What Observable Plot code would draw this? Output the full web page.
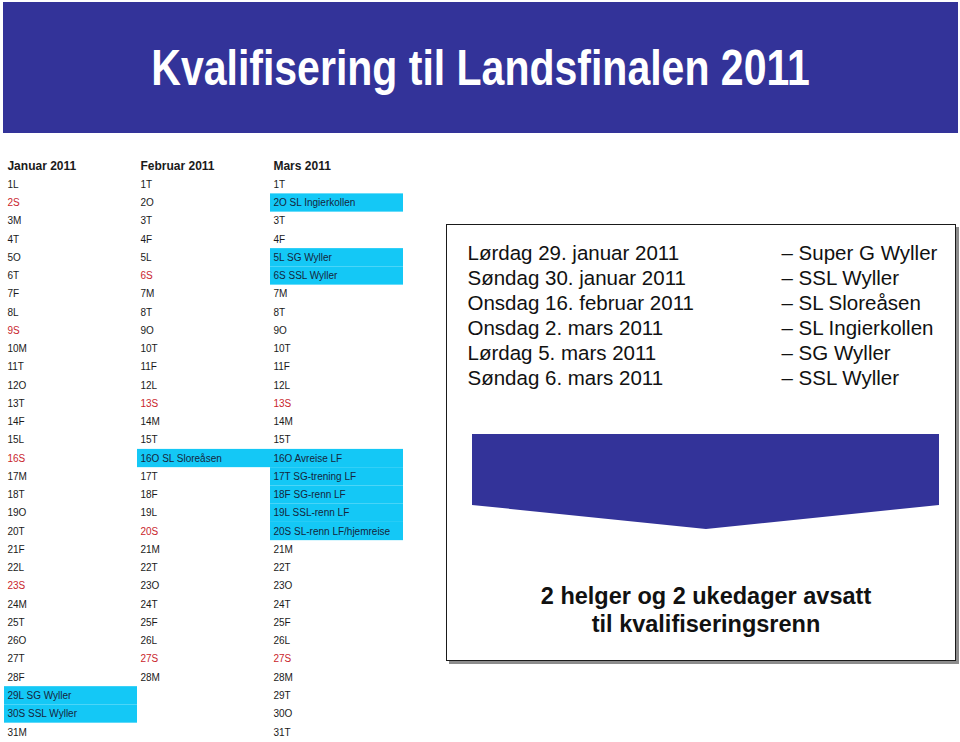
<!DOCTYPE html>
<html lang="no">
<head>
<meta charset="utf-8">
<script src="https://cdn.jsdelivr.net/npm/d3@7"></script>
<script src="https://cdn.jsdelivr.net/npm/@observablehq/plot@0.6"></script>
<style>
html,body{margin:0;padding:0;background:#fff;}
#page{position:relative;width:960px;height:742px;overflow:hidden;font-family:"Liberation Sans",Arial,Helvetica,sans-serif;}
#banner{position:absolute;left:3px;top:2px;width:955px;height:131px;background:#333399;}
#title{position:absolute;left:0;width:955px;top:41px;line-height:50px;text-align:center;color:#fff;font-weight:bold;font-size:50px;}
#title span{display:inline-block;transform:scaleX(0.82);white-space:nowrap;}
#cal{position:absolute;left:0;top:140px;}
#box{position:absolute;left:446px;top:224px;width:510px;height:437px;box-sizing:border-box;border:1.5px solid #1a1a1a;box-shadow:3px 3px 0 #8c8c8c;background:#fff;}
#list{position:absolute;left:466px;top:240px;}
#chevron{position:absolute;left:472px;top:434px;width:467px;height:95px;background:#333399;clip-path:polygon(0 0,100% 0,100% 74.7%,50.1% 100%,0 74.7%);}
#note{position:absolute;left:456px;top:582px;width:500px;text-align:center;font-weight:bold;font-size:23.5px;line-height:28px;color:#111;}
svg text{white-space:pre;}
</style>
</head>
<body>
<div id="page">
  <div id="banner"><div id="title"><span>Kvalifisering til Landsfinalen 2011</span></div></div>
  <div id="cal"></div>
  <div id="box"></div>
  <div id="list"></div>
  <div id="chevron"></div>
  <div id="note">2 helger og 2 ukedager avsatt<br>til kvalifiseringsrenn</div>
</div>
<script>
// ---- data ----
const months = ["Januar 2011", "Februar 2011", "Mars 2011"];
const janDays = ["L","S","M","T","O","T","F","L","S","M","T","O","T","F","L","S","M","T","O","T","F","L","S","M","T","O","T","F","L","S","M"];
const febDays = ["T","O","T","F","L","S","M","T","O","T","F","L","S","M","T","O","T","F","L","S","M","T","O","T","F","L","S","M"];
const marDays = ["T","O","T","F","L","S","M","T","O","T","F","L","S","M","T","O","T","F","L","S","M","T","O","T","F","L","S","M","T","O","T"];

const hlMonth = ["Januar 2011","Januar 2011","Februar 2011","Mars 2011","Mars 2011","Mars 2011","Mars 2011","Mars 2011","Mars 2011","Mars 2011","Mars 2011"];
const hlDay   = [29, 30, 16, 2, 5, 6, 16, 17, 18, 19, 20];
const hlText  = ["SG Wyller","SSL Wyller","SL Sloreåsen","SL Ingierkollen","SG Wyller","SSL Wyller","Avreise LF","SG-trening LF","SG-renn LF","SSL-renn LF","SL-renn LF/hjemreise"];

const listDates = ["Lørdag 29. januar 2011","Søndag 30. januar 2011","Onsdag 16. februar 2011","Onsdag 2. mars 2011","Lørdag 5. mars 2011","Søndag 6. mars 2011"];
const listRaces = ["– Super G Wyller","– SSL Wyller","– SL Sloreåsen","– SL Ingierkollen","– SG Wyller","– SSL Wyller"];

// ---- styles ----
const CYAN = "#14c8f6", INK = "#1a1a1a", RED = "#c9252c", INK_HL = "#15263c", SUN_HL = "#6e5a8c";
const FONT = "'Liberation Sans', Arial, Helvetica, sans-serif";

// ---- build tables ----
const dayLists = [janDays, febDays, marDays];
const hl = hlDay.map((d, i) => ({month: hlMonth[i], day: d, text: hlText[i]}));
const rows = [];
months.forEach((m, i) => dayLists[i].forEach((l, j) => {
  const day = j + 1;
  const h = hl.find(e => e.month === m && e.day === day);
  rows.push({month: m, day, token: `${day}${l}`, sunday: l === "S", event: h ? h.text : null});
}));
const plain = rows.filter(r => !r.event);
const marked = rows.filter(r => r.event).map(r => ({...r, label: `${r.token} ${r.event}`}));

const xRange = [4, 403.3];
const bw = (xRange[1] - xRange[0]) / months.length;
const dxStart = -bw / 2 + 3;

const cal = Plot.plot({
  width: 420, height: 602, margin: 0,
  style: {fontFamily: FONT, background: "transparent", overflow: "visible"},
  x: {type: "band", domain: months, range: xRange, paddingInner: 0, paddingOuter: 0, axis: null},
  y: {domain: [0, 31], range: [26, 591.8], axis: null},
  marks: [
    Plot.barY(marked, {x: "month", y1: d => d.day - 0.5, y2: d => d.day + 0.5, fill: CYAN, inset: 0}),
    Plot.text(months, {x: d => d, y: () => 0, text: d => d, textAnchor: "start", dx: dxStart, fontSize: 12, fontWeight: "bold", fill: INK}),
    Plot.text(plain.filter(r => !r.sunday), {x: "month", y: "day", text: "token", textAnchor: "start", dx: dxStart, fontSize: 10, fill: INK}),
    Plot.text(plain.filter(r => r.sunday), {x: "month", y: "day", text: "token", textAnchor: "start", dx: dxStart, fontSize: 10, fill: RED}),
    Plot.text(marked, {x: "month", y: "day", text: "label", textAnchor: "start", dx: dxStart, fontSize: 10, fill: INK_HL, ariaLabel: "hendelser"})
  ]
});
const NS = "http://www.w3.org/2000/svg";
cal.querySelectorAll('g[aria-label="hendelser"] text').forEach(t => {
  const s = t.textContent, k = s.indexOf(" ");
  const tok = s.slice(0, k), rest = s.slice(k);
  t.textContent = "";
  const a = document.createElementNS(NS, "tspan");
  a.textContent = tok;
  if (/S$/.test(tok)) a.setAttribute("fill", SUN_HL);
  const b = document.createElementNS(NS, "tspan");
  b.textContent = rest;
  t.append(a, b);
});
document.getElementById("cal").append(cal);

const listRows = listDates.flatMap((d, i) => [{col: "dato", row: i, text: d}, {col: "renn", row: i, text: listRaces[i]}]);
const list = Plot.plot({
  width: 490, height: 152, margin: 0,
  style: {fontFamily: FONT, background: "transparent", overflow: "visible"},
  x: {type: "point", domain: ["dato", "renn"], range: [0.5, 315], padding: 0, axis: null},
  y: {type: "point", domain: d3.range(listDates.length), range: [12.5, 138.5], padding: 0, axis: null},
  marks: [
    Plot.text(listRows, {x: "col", y: "row", text: "text", textAnchor: "start", fontSize: 20.5, fill: "#111"})
  ]
});
document.getElementById("list").append(list);
</script>
</body>
</html>
